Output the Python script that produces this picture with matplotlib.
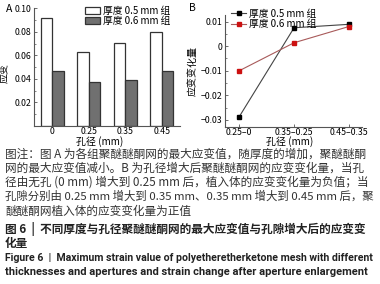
import matplotlib
matplotlib.use("Agg")
import matplotlib.pyplot as plt
import numpy as np
from matplotlib.ticker import MultipleLocator

plt.rcParams['font.family'] = ['Noto Sans CJK SC', 'DejaVu Sans']

# ---- data ----
apertures = ["0", "0.25", "0.35", "0.45"]
strain_05 = [0.0917, 0.0631, 0.0709, 0.0797]
strain_06 = [0.0471, 0.0371, 0.0389, 0.0471]

changes = ["0.25–0", "0.35–0.25", "0.45–0.35"]
change_05 = [-0.0287, 0.0075, 0.0089]
change_06 = [-0.0100, 0.0014, 0.0080]

legend_labels = ["厚度 0.5 mm 组", "厚度 0.6 mm 组"]

caption_lines = [
    "图注：图 A 为各组聚醚醚酮网的最大应变值，随厚度的增加，聚醚醚酮",
    "网的最大应变值减小。B 为孔径增大后聚醚醚酮网的应变变化量，当孔",
    "径由无孔 (0 mm) 增大到 0.25 mm 后，植入体的应变变化量为负值；当",
    "孔隙分别由 0.25 mm 增大到 0.35 mm、0.35 mm 增大到 0.45 mm 后，聚",
    "醚醚酮网植入体的应变变化量为正值",
]
title_lines = [
    "图 6  |  不同厚度与孔径聚醚醚酮网的最大应变值与孔隙增大后的应变变",
    "化量",
]
en_lines = [
    "Figure 6  |  Maximum strain value of polyetheretherketone mesh with different",
    "thicknesses and apertures and strain change after aperture enlargement",
]

W, H = 380, 284
fig = plt.figure(figsize=(W / 100, H / 100), dpi=100)

def fx(px):
    return px / W

def fy(py):
    return 1 - py / H

tick_fs = 6.3
lab_fs = 7.2
axis_col = "#555555"

# ---- panel A ----
axA = fig.add_axes([fx(34), fy(126), fx(180) - fx(34), fy(8) - fy(126)])
x = np.arange(len(apertures))
bw = 0.315
axA.bar(x - bw, strain_05, width=bw, align='edge', color='white', edgecolor='#333333', linewidth=0.9, label=legend_labels[0])
axA.bar(x, strain_06, width=bw, align='edge', color='#707070', edgecolor='#333333', linewidth=0.9, label=legend_labels[1])
axA.set_xlim(-0.5, 3.5)
axA.set_ylim(0, 0.1004)
axA.set_xticks(x)
axA.set_xticklabels(apertures)
axA.set_yticks([0.02, 0.04, 0.06, 0.08, 0.10])
axA.set_yticklabels(["0.02", "0.04", "0.06", "0.08", "0.10"])
axA.yaxis.set_minor_locator(MultipleLocator(0.01))
axA.set_ylabel("应变", fontsize=lab_fs)
axA.yaxis.set_label_coords(-0.165, 0.45)
axA.set_xlabel("孔径 (mm)", fontsize=lab_fs)
axA.xaxis.set_label_coords(0.45, -0.13)
axA.xaxis.label.set_va('center')
for s in ['top', 'right']:
    axA.spines[s].set_visible(False)
for s in ['left', 'bottom']:
    axA.spines[s].set_color(axis_col)
    axA.spines[s].set_linewidth(0.8)
axA.tick_params(axis='both', which='major', direction='in', length=2.5, width=0.6, labelsize=tick_fs, pad=2, color=axis_col)
axA.tick_params(axis='y', which='minor', direction='in', length=1.5, width=0.5, color=axis_col)
axA.tick_params(axis='x', which='major', length=0, pad=1)
axA.legend(loc='upper left', bbox_to_anchor=(0.31, 1.07), frameon=False, fontsize=7,
           handlelength=1.5, handleheight=0.7, handletextpad=0.3, labelspacing=0.05, borderpad=0.1)
fig.text(fx(9), fy(9), "A", fontsize=7.5, ha='center', va='center')

# ---- panel B ----
axB = fig.add_axes([fx(225), fy(127), fx(362) - fx(225), fy(15) - fy(127)])
xb = np.arange(len(changes))
axB.plot(xb, change_05, color='#444444', linewidth=0.8, marker='s', markersize=3,
         markerfacecolor='black', markeredgecolor='black', label=legend_labels[0])
axB.plot(xb, change_06, color='#a85a5a', linewidth=0.8, marker='s', markersize=2.6,
         markerfacecolor='#cc1111', markeredgecolor='#cc1111', label=legend_labels[1])
axB.set_xlim(-0.26, 2.24)
axB.set_ylim(-0.0329, 0.0127)
axB.set_xticks(xb)
axB.set_xticklabels(changes)
axB.set_yticks([-0.03, -0.02, -0.01, 0, 0.01])
axB.set_yticklabels(["−0.03", "−0.02", "−0.01", "0", "0.01"])
axB.yaxis.set_minor_locator(MultipleLocator(0.005))
axB.set_ylabel("应变变化量", fontsize=lab_fs)
axB.yaxis.set_label_coords(-0.2, 0.5)
axB.set_xlabel("孔径 (mm)", fontsize=lab_fs)
axB.xaxis.set_label_coords(0.47, -0.128)
axB.xaxis.label.set_va('center')
for s in ['top', 'right']:
    axB.spines[s].set_visible(False)
for s in ['left', 'bottom']:
    axB.spines[s].set_color(axis_col)
    axB.spines[s].set_linewidth(0.8)
axB.tick_params(axis='both', which='major', direction='in', length=2.5, width=0.6, labelsize=tick_fs, pad=2, color=axis_col)
axB.tick_params(axis='y', which='minor', direction='in', length=1.5, width=0.5, color=axis_col)
axB.tick_params(axis='x', which='major', pad=1)
axB.legend(loc='upper left', bbox_to_anchor=(0.0, 1.11), frameon=False, fontsize=7,
           handlelength=1.6, handletextpad=0.3, labelspacing=0.05, borderpad=0.1)
fig.text(fx(192), fy(8), "B", fontsize=7.5, ha='center', va='center')

# ---- caption ----
cap_fs = 8.4
txt_col = "#333333"
texts = []
for yy, line in zip([154, 168, 182, 196, 211], caption_lines):
    texts.append(fig.text(fx(5), fy(yy), line, fontsize=cap_fs, ha='left', va='center', color=txt_col))
for yy, line in zip([229, 243], title_lines):
    texts.append(fig.text(fx(5), fy(yy), line, fontsize=cap_fs, ha='left', va='center', color='#222222', fontweight='bold'))
for yy, line in zip([258, 272], en_lines):
    texts.append(fig.text(fx(5), fy(yy), line, fontsize=8.0, ha='left', va='center', color='#222222', fontweight='bold',
                          family=['Roboto', 'DejaVu Sans']))

# shrink any line that would run past the right edge
fig.canvas.draw()
renderer = fig.canvas.get_renderer()
for t in texts:
    bb = t.get_window_extent(renderer)
    if bb.x1 > W - 4:
        t.set_fontsize(t.get_fontsize() * (W - 9) / (bb.x1 - 5 + 1e-9) * 0.995)

fig.savefig("out.png", dpi=100)
